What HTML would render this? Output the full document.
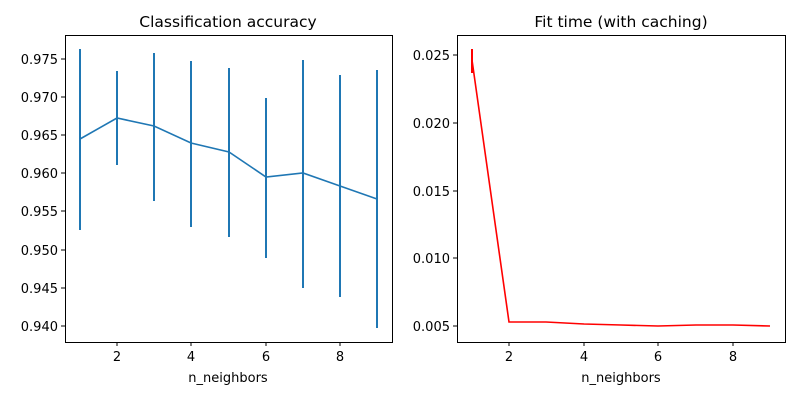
<!DOCTYPE html>
<html><head><meta charset="utf-8"><style>body{margin:0;background:#fff}svg{display:block}text{font-family:"DejaVu Sans","Liberation Sans",sans-serif;font-size:13px;fill:#000}</style></head><body>
<svg width="800" height="400" viewBox="0 0 800 400">
<g stroke="#000" stroke-width="1" fill="none">
<rect x="65.5" y="35.5" width="327" height="307"/>
<rect x="457.5" y="35.5" width="328" height="307"/>
</g>
<!-- left ticks -->
<g stroke="#000">
<line x1="117" y1="342" x2="117" y2="346"/><line x1="191" y1="342" x2="191" y2="346"/><line x1="266" y1="342" x2="266" y2="346"/><line x1="340" y1="342" x2="340" y2="346"/>
<line x1="61" y1="59" x2="65" y2="59"/><line x1="61" y1="97" x2="65" y2="97"/><line x1="61" y1="135" x2="65" y2="135"/><line x1="61" y1="173" x2="65" y2="173"/><line x1="61" y1="211" x2="65" y2="211"/><line x1="61" y1="250" x2="65" y2="250"/><line x1="61" y1="288" x2="65" y2="288"/><line x1="61" y1="326" x2="65" y2="326"/>
<line x1="509" y1="342" x2="509" y2="346"/><line x1="584" y1="342" x2="584" y2="346"/><line x1="658" y1="342" x2="658" y2="346"/><line x1="733" y1="342" x2="733" y2="346"/>
<line x1="453" y1="55" x2="457" y2="55"/><line x1="453" y1="123" x2="457" y2="123"/><line x1="453" y1="191" x2="457" y2="191"/><line x1="453" y1="258" x2="457" y2="258"/><line x1="453" y1="326" x2="457" y2="326"/>
</g>
<g text-anchor="middle">
<text x="117" y="361">2</text><text x="191" y="361">4</text><text x="266" y="361">6</text><text x="340" y="361">8</text>
<text x="509" y="361">2</text><text x="584" y="361">4</text><text x="658" y="361">6</text><text x="733" y="361">8</text>
<text x="228" y="382">n_neighbors</text><text x="621" y="382">n_neighbors</text>
<text x="228" y="27" style="font-size:15.5px">Classification accuracy</text>
<text x="621" y="27" style="font-size:15.5px">Fit time (with caching)</text>
</g>
<g text-anchor="end">
<text x="58" y="64">0.975</text><text x="58" y="102">0.970</text><text x="58" y="140">0.965</text><text x="58" y="178">0.960</text><text x="58" y="216">0.955</text><text x="58" y="255">0.950</text><text x="58" y="293">0.945</text><text x="58" y="331">0.940</text>
<text x="450" y="60">0.025</text><text x="450" y="128">0.020</text><text x="450" y="196">0.015</text><text x="450" y="263">0.010</text><text x="450" y="331">0.005</text>
</g>
<g stroke="#1f77b4" stroke-width="2">
<line x1="80" y1="49" x2="80" y2="230"/><line x1="117" y1="71" x2="117" y2="165"/><line x1="154" y1="53" x2="154" y2="201"/><line x1="191" y1="61" x2="191" y2="227"/><line x1="229" y1="68" x2="229" y2="237"/><line x1="266" y1="98" x2="266" y2="258"/><line x1="303" y1="60" x2="303" y2="288"/><line x1="340" y1="75" x2="340" y2="297"/><line x1="377" y1="70" x2="377" y2="328"/>
</g>
<polyline fill="none" stroke="#1f77b4" stroke-width="1.6" points="80,139 117,118 154,126 191,143 229,152 266,177 303,173 340,186 377,199"/>
<line x1="472" y1="49" x2="472" y2="73" stroke="red" stroke-width="2"/>
<polyline fill="none" stroke="red" stroke-width="1.6" points="472,60 509,322 546,322 584,324 621,325 658,326 696,325 733,325 770,326"/>
</svg>
</body></html>
